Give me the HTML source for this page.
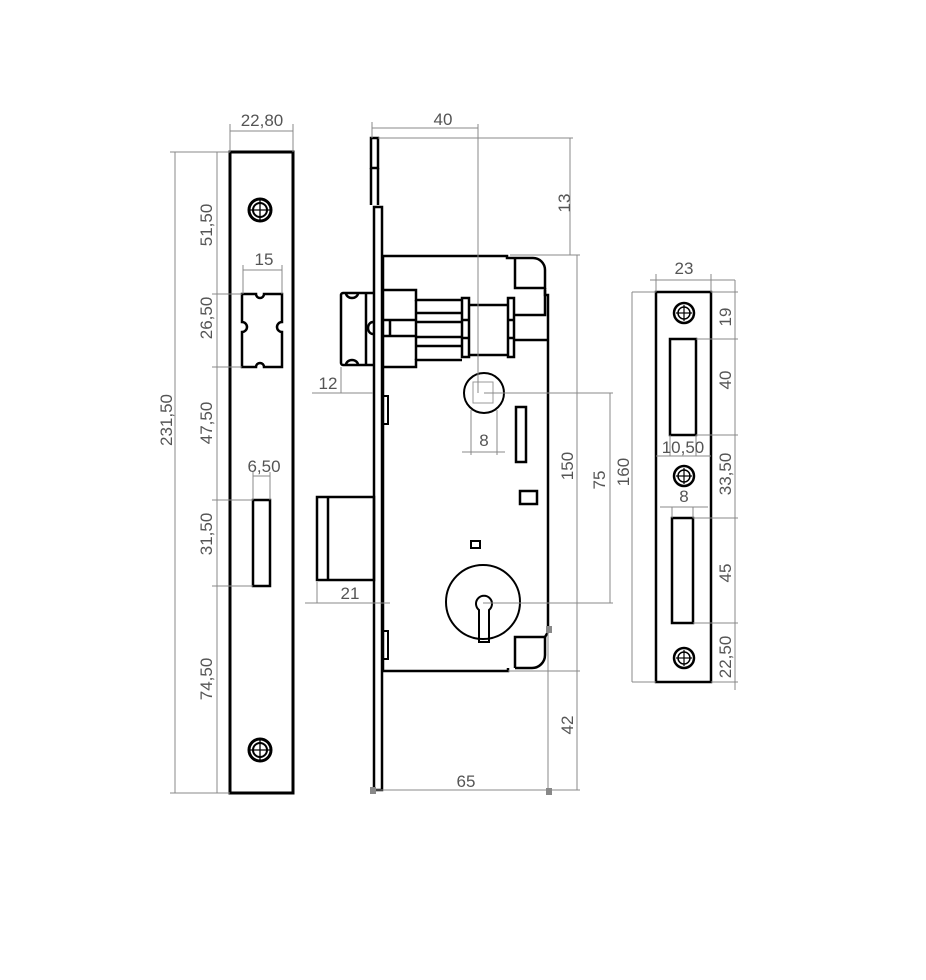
<!DOCTYPE html>
<html><head><meta charset="utf-8"><style>
html,body{margin:0;padding:0;background:#fff;}
svg{display:block}
text{font-family:"Liberation Sans",sans-serif;fill:#555;font-size:17px}
</style></head><body>
<svg width="926" height="980" viewBox="0 0 926 980" xmlns="http://www.w3.org/2000/svg">
<g fill="none" stroke="#000" stroke-width="3">
<rect x="230" y="152" width="63" height="641"/>
<circle cx="260" cy="210" r="11"/><circle cx="260" cy="210" r="7" stroke-width="2"/>
<circle cx="260" cy="750" r="11"/><circle cx="260" cy="750" r="7" stroke-width="2"/>
<path d="M242 294 H256 A4 4 0 0 0 264 294 H282 V322 A4 4 0 0 0 282 332 V367 H264 A4 4 0 0 0 256 367 H242 V332 A4 4 0 0 0 242 322 Z" stroke-width="2.5"/>
<rect x="253" y="500" width="17" height="86" stroke-width="2.5"/>
</g>
<g stroke="#000" stroke-width="1.3">
<line x1="250" y1="210" x2="270" y2="210"/><line x1="260" y1="200" x2="260" y2="220"/>
<line x1="250" y1="750" x2="270" y2="750"/><line x1="260" y1="740" x2="260" y2="760"/>
</g>
<g stroke="#888" stroke-width="1" fill="none">
<line x1="175" y1="152" x2="175" y2="793"/><line x1="217" y1="152" x2="217" y2="793"/>
<line x1="170" y1="152" x2="230" y2="152"/><line x1="170" y1="793" x2="230" y2="793"/>
<line x1="212" y1="294" x2="242" y2="294"/><line x1="212" y1="367" x2="242" y2="367"/>
<line x1="212" y1="500" x2="253" y2="500"/><line x1="212" y1="586" x2="253" y2="586"/>
<line x1="230" y1="124" x2="230" y2="152"/><line x1="293" y1="124" x2="293" y2="152"/>
<line x1="230" y1="131" x2="293" y2="131"/>
<line x1="243" y1="265" x2="243" y2="294"/><line x1="282" y1="265" x2="282" y2="294"/>
<line x1="243" y1="270" x2="282" y2="270"/>
<line x1="253" y1="472" x2="253" y2="500"/><line x1="270" y1="472" x2="270" y2="500"/>
<line x1="253" y1="476" x2="270" y2="476"/>
</g>
<text x="262" y="126" text-anchor="middle" font-size="21">22,80</text>
<text x="264" y="265" text-anchor="middle" font-size="20">15</text>
<text x="264" y="472" text-anchor="middle" font-size="20">6,50</text>
<g font-size="22">
<text transform="translate(172,420) rotate(-90)" text-anchor="middle">231,50</text>
<text transform="translate(212,225) rotate(-90)" text-anchor="middle">51,50</text>
<text transform="translate(212,318) rotate(-90)" text-anchor="middle">26,50</text>
<text transform="translate(212,423) rotate(-90)" text-anchor="middle">47,50</text>
<text transform="translate(212,534) rotate(-90)" text-anchor="middle">31,50</text>
<text transform="translate(212,679) rotate(-90)" text-anchor="middle">74,50</text>
</g>

<g fill="none" stroke="#000" stroke-width="2.5">
<rect x="371" y="138" width="7" height="30"/>
<line x1="371" y1="168" x2="371" y2="205"/><line x1="378" y1="168" x2="378" y2="205"/>
<rect x="374" y="207" width="8" height="583"/>
<path d="M383 256 H507 V258 H515"/>
<path d="M515 258 V288 H545 V270 A12 12 0 0 0 533 258 H515"/>
<path d="M545 288 V295 H548 V632"/>
<path d="M383 256 V671 H508 V668"/>
<path d="M515 668 V637 H545 V655 A13 13 0 0 1 532 668 H515"/>
<line x1="548" y1="632" x2="545" y2="637"/>
<path d="M373 293 H343 A2 2 0 0 0 341 295 V363 A2 2 0 0 0 343 365 H373"/>
<line x1="366" y1="293" x2="366" y2="365"/>
<path d="M346 293 A6 5 0 0 0 358 293"/><path d="M346 365 A6 5 0 0 1 358 365"/>
<path d="M373 322 A5 6 0 0 0 373 334"/>
<path d="M383 290 H416 V300 H462 M462 360 H416 V367 H383"/>
<rect x="462" y="298" width="7" height="59"/>
<rect x="508" y="298" width="6" height="59"/>
<line x1="469" y1="305" x2="508" y2="305"/><line x1="469" y1="355" x2="508" y2="355"/>
<line x1="416" y1="300" x2="416" y2="360"/>
<line x1="416" y1="313" x2="462" y2="313"/><line x1="416" y1="322" x2="462" y2="322"/>
<line x1="416" y1="337" x2="462" y2="337"/><line x1="416" y1="346" x2="462" y2="346"/>
<line x1="383" y1="320" x2="416" y2="320"/><line x1="383" y1="336" x2="416" y2="336"/>
<line x1="390" y1="320" x2="390" y2="336"/>
<line x1="462" y1="320" x2="469" y2="320"/><line x1="462" y1="338" x2="469" y2="338"/>
<line x1="508" y1="320" x2="514" y2="320"/><line x1="508" y1="338" x2="514" y2="338"/>
<path d="M514 315 H545 V290"/>
<line x1="514" y1="340" x2="548" y2="340"/>
<circle cx="484" cy="393" r="20" stroke-width="2"/>
<rect x="516" y="407" width="10" height="55"/>
<rect x="520" y="491" width="17" height="13"/>
<rect x="471" y="541" width="9" height="7" stroke-width="2"/>
<circle cx="483" cy="602" r="37" stroke-width="2"/>
<path d="M479 610 A8 8 0 1 1 489 610 V642 H479 Z" stroke-width="2"/>
<rect x="317" y="497" width="57" height="83"/>
<line x1="328" y1="497" x2="328" y2="580"/>
<rect x="383" y="396" width="5" height="28" stroke-width="2"/>
<rect x="383" y="631" width="5" height="28" stroke-width="2"/>
</g>
<rect x="473" y="382" width="20" height="21" fill="none" stroke="#999" stroke-width="1"/>
<g stroke="#888" stroke-width="1" fill="none">
<line x1="372" y1="122" x2="372" y2="138"/><line x1="372" y1="128" x2="478" y2="128"/>
<line x1="478" y1="124" x2="478" y2="393"/>
<line x1="378" y1="138" x2="573" y2="138"/><line x1="570" y1="138" x2="570" y2="255"/>
<line x1="510" y1="255" x2="580" y2="255"/>
<line x1="577" y1="255" x2="577" y2="790"/>
<line x1="484" y1="393" x2="613" y2="393"/><line x1="610" y1="393" x2="610" y2="603"/>
<line x1="483" y1="603" x2="613" y2="603"/>
<line x1="508" y1="671" x2="580" y2="671"/>
<line x1="374" y1="790" x2="580" y2="790"/>
<line x1="312" y1="393" x2="373" y2="393"/><line x1="341" y1="367" x2="341" y2="393"/>
<line x1="305" y1="603" x2="390" y2="603"/><line x1="317" y1="582" x2="317" y2="603"/>
<line x1="471" y1="410" x2="471" y2="455"/><line x1="497" y1="410" x2="497" y2="455"/>
<line x1="462" y1="452" x2="505" y2="452"/>
<line x1="548" y1="632" x2="548" y2="790"/>
</g>
<rect x="370" y="787" width="6" height="7" fill="#888"/>
<rect x="546" y="788" width="6" height="7" fill="#888"/>
<rect x="546" y="626" width="6" height="7" fill="#888"/>
<text x="443" y="125" text-anchor="middle" font-size="20">40</text>
<text x="328" y="389" text-anchor="middle" font-size="20">12</text>
<text x="350" y="599" text-anchor="middle" font-size="20">21</text>
<text x="484" y="446" text-anchor="middle" font-size="17">8</text>
<text x="466" y="787" text-anchor="middle" font-size="20" fill="#aaa">65</text>
<g font-size="19">
<text transform="translate(570,203) rotate(-90)" text-anchor="middle">13</text>
<text transform="translate(573,466) rotate(-90)" text-anchor="middle">150</text>
<text transform="translate(605,480) rotate(-90)" text-anchor="middle">75</text>
<text transform="translate(629,472) rotate(-90)" text-anchor="middle">160</text>
<text transform="translate(573,725) rotate(-90)" text-anchor="middle">42</text>
</g>

<g fill="none" stroke="#000" stroke-width="2.5">
<rect x="656" y="292" width="55" height="390"/>
<rect x="670" y="339" width="26" height="96"/>
<rect x="672" y="518" width="21" height="105"/>
<circle cx="684" cy="313" r="10"/><circle cx="684" cy="313" r="6" stroke-width="1.5"/>
<circle cx="684" cy="476" r="10"/><circle cx="684" cy="476" r="6" stroke-width="1.5"/>
<circle cx="684" cy="658" r="10"/><circle cx="684" cy="658" r="6" stroke-width="1.5"/>
</g>
<g stroke="#000" stroke-width="1.2">
<line x1="676" y1="313" x2="692" y2="313"/><line x1="684" y1="305" x2="684" y2="321"/>
<line x1="676" y1="476" x2="692" y2="476"/><line x1="684" y1="468" x2="684" y2="484"/>
<line x1="676" y1="658" x2="692" y2="658"/><line x1="684" y1="650" x2="684" y2="666"/>
</g>
<g stroke="#888" stroke-width="1" fill="none">
<line x1="656" y1="274" x2="656" y2="292"/><line x1="711" y1="274" x2="711" y2="292"/>
<line x1="650" y1="280" x2="735" y2="280"/>
<line x1="632" y1="292" x2="656" y2="292"/><line x1="632" y1="682" x2="656" y2="682"/>
<line x1="632" y1="292" x2="632" y2="682"/>
<line x1="711" y1="292" x2="738" y2="292"/><line x1="735" y1="280" x2="735" y2="690"/>
<line x1="696" y1="339" x2="738" y2="339"/><line x1="696" y1="435" x2="738" y2="435"/>
<line x1="693" y1="518" x2="738" y2="518"/><line x1="693" y1="623" x2="738" y2="623"/>
<line x1="711" y1="682" x2="738" y2="682"/>
<line x1="656" y1="456" x2="711" y2="456"/><line x1="670" y1="435" x2="670" y2="456"/><line x1="696" y1="435" x2="696" y2="456"/>
<line x1="660" y1="507" x2="708" y2="507"/><line x1="672" y1="507" x2="672" y2="518"/><line x1="693" y1="507" x2="693" y2="518"/>
</g>
<text x="684" y="274" text-anchor="middle" font-size="16">23</text>
<text x="683" y="453" text-anchor="middle" font-size="17">10,50</text>
<text x="684" y="502" text-anchor="middle" font-size="16">8</text>
<g font-size="17">
<text transform="translate(731,317) rotate(-90)" text-anchor="middle">19</text>
<text transform="translate(731,380) rotate(-90)" text-anchor="middle">40</text>
<text transform="translate(731,474) rotate(-90)" text-anchor="middle">33,50</text>
<text transform="translate(731,573) rotate(-90)" text-anchor="middle">45</text>
<text transform="translate(731,657) rotate(-90)" text-anchor="middle">22,50</text>
</g>
</svg>
</body></html>
